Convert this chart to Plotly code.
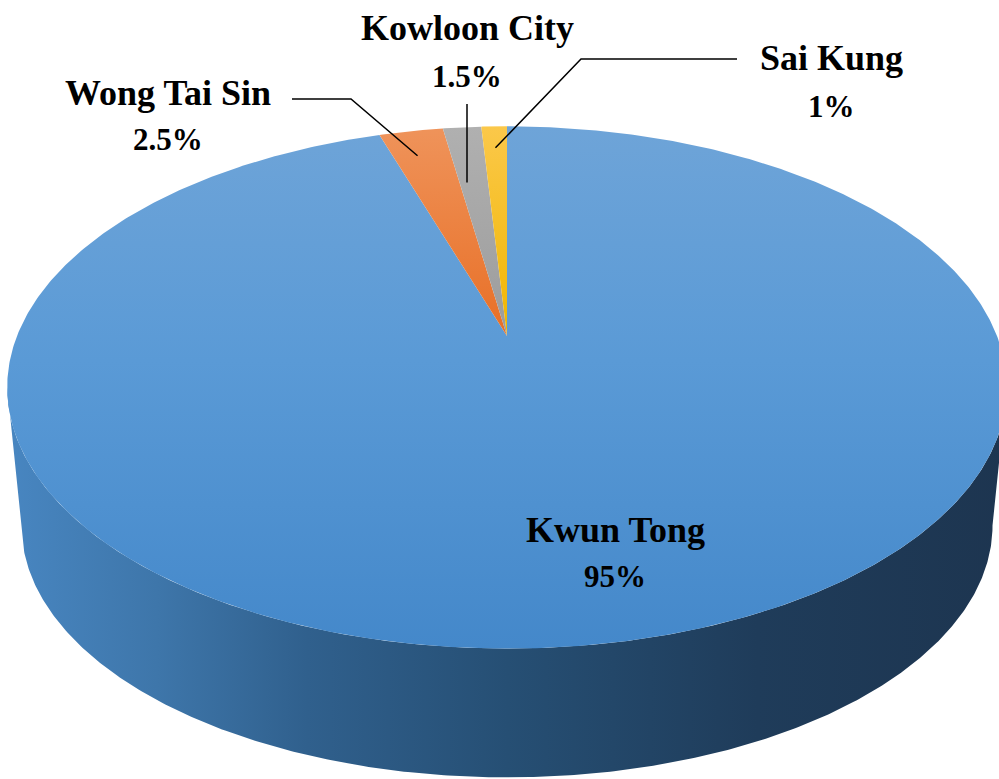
import numpy as np
import plotly.graph_objects as go

# ---------------- data ----------------
districts = ["Kwun Tong", "Wong Tai Sin", "Kowloon City", "Sai Kung"]
shares = [95, 2.5, 1.5, 1]

# ---------------- styling ----------------
top_light = ["#6ea4d8", "#ef935a", "#b0b0b0", "#fbc84a"]
top_dark = ["#4488ca", "#e86f26", "#9c9c9c", "#f0b600"]
side_scale = [[0, "#4886c1"], [0.15, "#3e76aa"], [0.3, "#30608d"],
              [0.5, "#264f74"], [0.75, "#1f3c5a"], [1, "#1d3550"]]

W, H = 999, 779
# perspective disc geometry (pixel space)
CX = 507
TOP = dict(Y0=336, A=490, B=251)
BOT = dict(Y0=476, A=476, B=242)
C = 0.197  # perspective factor


def proj(phi_deg, rho=1.0, face=TOP):
    phi = np.radians(phi_deg)
    u = rho * np.sin(phi)
    v = -rho * np.cos(phi)
    w = 1 - C * v
    return CX + face["A"] * u / w, face["Y0"] + face["B"] * v / w


fig = go.Figure()

# ---- side wall (front half, visible part of the largest slice) ----
phi_l = 360 - np.degrees(np.arccos(-C))   # left silhouette
phi_r = np.degrees(np.arccos(-C))         # right silhouette
arc = np.linspace(phi_r, phi_l, 400)
xt, yt = proj(arc, 1.0, TOP)
xb, yb = proj(arc[::-1], 1.0, BOT)
fig.add_trace(go.Scatter(
    x=np.concatenate([xt, xb]), y=np.concatenate([yt, yb]),
    mode="lines", fill="toself", line=dict(width=0),
    fillgradient=dict(type="horizontal", colorscale=side_scale),
    hoverinfo="skip", showlegend=False))

# ---- top face slices, clockwise from 12 o'clock ----
total = sum(shares)
start = 0.0
mids = []
for name, val, c1, c2 in zip(districts, shares, top_light, top_dark):
    span = 360.0 * val / total
    n = max(20, int(span * 2))
    angs = np.linspace(start, start + span, n)
    ax_, ay_ = proj(angs)
    xs = np.concatenate([[CX], ax_, [CX]])
    ys = np.concatenate([[TOP["Y0"]], ay_, [TOP["Y0"]]])
    # colorscale runs from the visual bottom (0) to the visual top (1)
    if name == "Kwun Tong":
        scale = [[0, c2], [0.55, "#5a9ad6"], [1, c1]]
    else:
        scale = [[0, c2], [1, c1]]
    fig.add_trace(go.Scatter(
        x=xs, y=ys, mode="lines", fill="toself", line=dict(width=0),
        fillgradient=dict(type="vertical", colorscale=scale),
        hoverinfo="skip", showlegend=False, name=name))
    mids.append(start + span / 2)
    start += span

# ---- labels ----
name_font = dict(family="Liberation Serif", size=36, color="black")
pct_font = dict(family="Liberation Serif", size=31, color="black")
label_pos = {  # (x, name_y, pct_y)
    "Kwun Tong": (615, 530, 576),
    "Wong Tai Sin": (168, 93, 139),
    "Kowloon City": (467, 28, 76),
    "Sai Kung": (831, 58, 106),
}
for name, val in zip(districts, shares):
    lx, ny, py = label_pos[name]
    fig.add_annotation(x=lx, y=ny, text=f"<b>{name}</b>", showarrow=False,
                       font=name_font, xanchor="center", yanchor="middle")
    fig.add_annotation(x=lx, y=py, text=f"<b>{val:g}%</b>", showarrow=False,
                       font=pct_font, xanchor="center", yanchor="middle")

# ---- leader lines ----
lead_style = dict(color="black", width=1.5)
# Wong Tai Sin
ex, ey = proj(mids[1], 0.86)
fig.add_trace(go.Scatter(x=[292, 351, ex - 5], y=[99, 99, ey], mode="lines",
                         line=lead_style, hoverinfo="skip", showlegend=False))
# Kowloon City
ex, ey = proj(mids[2], 0.70)
fig.add_trace(go.Scatter(x=[467, 467], y=[104, ey], mode="lines",
                         line=lead_style, hoverinfo="skip", showlegend=False))
# Sai Kung
ex, ey = proj(mids[3], 0.88)
fig.add_trace(go.Scatter(x=[737, 581, ex], y=[59, 59, ey], mode="lines",
                         line=lead_style, hoverinfo="skip", showlegend=False))

fig.update_layout(
    width=W, height=H, margin=dict(l=0, r=0, t=0, b=0),
    paper_bgcolor="white", plot_bgcolor="white",
    xaxis=dict(range=[0, W], visible=False, fixedrange=True),
    yaxis=dict(range=[H, 0], visible=False, fixedrange=True),
)
fig.write_html("out.html", config={"displayModeBar": False},
               post_script="document.body.style.margin='0px';"
                           "document.body.style.overflow='hidden';")
